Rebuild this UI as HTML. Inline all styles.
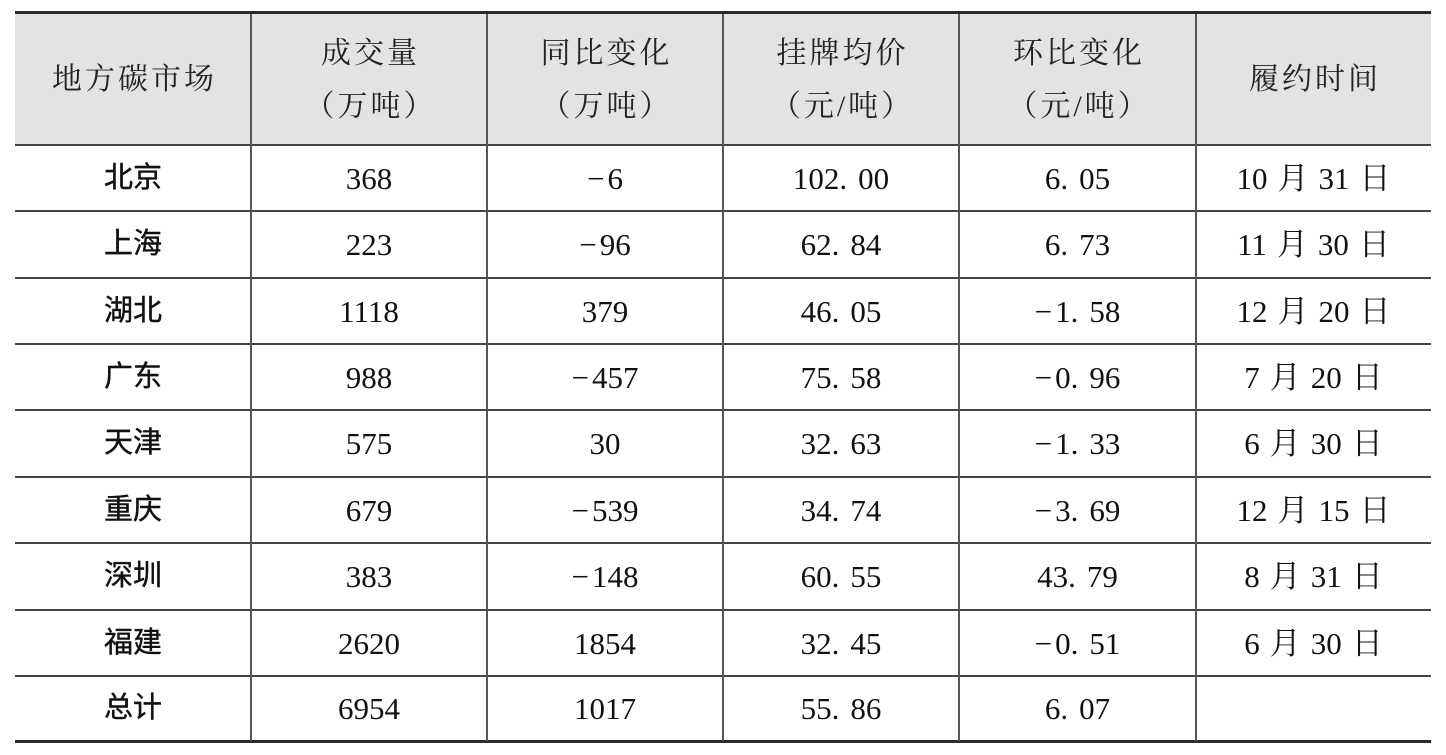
<!DOCTYPE html>
<html>
<head>
<meta charset="utf-8">
<style>
  html,body{margin:0;padding:0;background:#fff;}
  body{width:1446px;height:755px;position:relative;overflow:hidden;}
  .hl{position:absolute;left:15px;width:1416px;background:#444;}
  .vl{position:absolute;width:2px;background:#555;top:14px;height:727px;}
  .c{position:absolute;display:flex;align-items:center;justify-content:center;white-space:nowrap;color:#111;
     font-family:"Liberation Serif","Noto Serif CJK SC",serif;font-size:31px;line-height:1;}
  .n{font-family:"Liberation Sans","Noto Sans CJK SC",sans-serif;font-size:29px;font-weight:400;-webkit-text-stroke:0.4px #111;}
  .h{font-family:"Liberation Serif","Noto Serif CJK SC",serif;font-size:30px;letter-spacing:3px;color:#222;
     flex-direction:column;line-height:53px;text-indent:3px;}
  .h div{text-align:center;}
  i{display:inline-block;width:11px;}
  b{display:inline-block;width:10px;font-weight:normal;}
  .m{position:relative;top:0px;margin-right:3px;}
</style>
</head>
<body>
<div style="position:absolute;left:15px;top:14px;width:1416px;height:131px;background:#e2e3e5;"></div>
<div style="position:absolute;left:15px;top:11px;width:1416px;height:3px;background:#2a2a2a;"></div>
<div style="position:absolute;left:15px;top:740px;width:1416px;height:3px;background:#2a2a2a;"></div>
<div class="hl" style="top:144px;height:2px;"></div>
<div class="hl" style="top:210px;height:2px;"></div>
<div class="hl" style="top:277px;height:2px;"></div>
<div class="hl" style="top:343px;height:2px;"></div>
<div class="hl" style="top:409px;height:2px;"></div>
<div class="hl" style="top:476px;height:2px;"></div>
<div class="hl" style="top:542px;height:2px;"></div>
<div class="hl" style="top:609px;height:2px;"></div>
<div class="hl" style="top:675px;height:2px;"></div>
<div class="vl" style="left:250px;"></div>
<div class="vl" style="left:486px;"></div>
<div class="vl" style="left:722px;"></div>
<div class="vl" style="left:958px;"></div>
<div class="vl" style="left:1195px;"></div>

<div class="c h" style="left:15px;top:14px;width:236px;height:131px;"><div>地方碳市场</div></div>
<div class="c h" style="left:251px;top:14px;width:236px;height:131px;"><div>成交量</div><div>（万吨）</div></div>
<div class="c h" style="left:487px;top:14px;width:236px;height:131px;"><div>同比变化</div><div>（万吨）</div></div>
<div class="c h" style="left:723px;top:14px;width:236px;height:131px;"><div>挂牌均价</div><div>（元/吨）</div></div>
<div class="c h" style="left:959px;top:14px;width:237px;height:131px;"><div>环比变化</div><div>（元/吨）</div></div>
<div class="c h" style="left:1196px;top:14px;width:235px;height:131px;"><div>履约时间</div></div>

<div class="c n" style="left:15px;top:145px;width:236px;height:66px;">北京</div>
<div class="c" style="left:251px;top:145px;width:236px;height:66px;">368</div>
<div class="c" style="left:487px;top:145px;width:236px;height:66px;"><span class="m">−</span>6</div>
<div class="c" style="left:723px;top:145px;width:236px;height:66px;">102.<i></i>00</div>
<div class="c" style="left:959px;top:145px;width:237px;height:66px;">6.<i></i>05</div>
<div class="c" style="left:1196px;top:145px;width:235px;height:66px;">10<b></b>月<b></b>31<b></b>日</div>

<div class="c n" style="left:15px;top:211px;width:236px;height:67px;">上海</div>
<div class="c" style="left:251px;top:211px;width:236px;height:67px;">223</div>
<div class="c" style="left:487px;top:211px;width:236px;height:67px;"><span class="m">−</span>96</div>
<div class="c" style="left:723px;top:211px;width:236px;height:67px;">62.<i></i>84</div>
<div class="c" style="left:959px;top:211px;width:237px;height:67px;">6.<i></i>73</div>
<div class="c" style="left:1196px;top:211px;width:235px;height:67px;">11<b></b>月<b></b>30<b></b>日</div>

<div class="c n" style="left:15px;top:278px;width:236px;height:66px;">湖北</div>
<div class="c" style="left:251px;top:278px;width:236px;height:66px;">1118</div>
<div class="c" style="left:487px;top:278px;width:236px;height:66px;">379</div>
<div class="c" style="left:723px;top:278px;width:236px;height:66px;">46.<i></i>05</div>
<div class="c" style="left:959px;top:278px;width:237px;height:66px;"><span class="m">−</span>1.<i></i>58</div>
<div class="c" style="left:1196px;top:278px;width:235px;height:66px;">12<b></b>月<b></b>20<b></b>日</div>

<div class="c n" style="left:15px;top:344px;width:236px;height:66px;">广东</div>
<div class="c" style="left:251px;top:344px;width:236px;height:66px;">988</div>
<div class="c" style="left:487px;top:344px;width:236px;height:66px;"><span class="m">−</span>457</div>
<div class="c" style="left:723px;top:344px;width:236px;height:66px;">75.<i></i>58</div>
<div class="c" style="left:959px;top:344px;width:237px;height:66px;"><span class="m">−</span>0.<i></i>96</div>
<div class="c" style="left:1196px;top:344px;width:235px;height:66px;">7<b></b>月<b></b>20<b></b>日</div>

<div class="c n" style="left:15px;top:410px;width:236px;height:67px;">天津</div>
<div class="c" style="left:251px;top:410px;width:236px;height:67px;">575</div>
<div class="c" style="left:487px;top:410px;width:236px;height:67px;">30</div>
<div class="c" style="left:723px;top:410px;width:236px;height:67px;">32.<i></i>63</div>
<div class="c" style="left:959px;top:410px;width:237px;height:67px;"><span class="m">−</span>1.<i></i>33</div>
<div class="c" style="left:1196px;top:410px;width:235px;height:67px;">6<b></b>月<b></b>30<b></b>日</div>

<div class="c n" style="left:15px;top:477px;width:236px;height:66px;">重庆</div>
<div class="c" style="left:251px;top:477px;width:236px;height:66px;">679</div>
<div class="c" style="left:487px;top:477px;width:236px;height:66px;"><span class="m">−</span>539</div>
<div class="c" style="left:723px;top:477px;width:236px;height:66px;">34.<i></i>74</div>
<div class="c" style="left:959px;top:477px;width:237px;height:66px;"><span class="m">−</span>3.<i></i>69</div>
<div class="c" style="left:1196px;top:477px;width:235px;height:66px;">12<b></b>月<b></b>15<b></b>日</div>

<div class="c n" style="left:15px;top:543px;width:236px;height:67px;">深圳</div>
<div class="c" style="left:251px;top:543px;width:236px;height:67px;">383</div>
<div class="c" style="left:487px;top:543px;width:236px;height:67px;"><span class="m">−</span>148</div>
<div class="c" style="left:723px;top:543px;width:236px;height:67px;">60.<i></i>55</div>
<div class="c" style="left:959px;top:543px;width:237px;height:67px;">43.<i></i>79</div>
<div class="c" style="left:1196px;top:543px;width:235px;height:67px;">8<b></b>月<b></b>31<b></b>日</div>

<div class="c n" style="left:15px;top:610px;width:236px;height:66px;">福建</div>
<div class="c" style="left:251px;top:610px;width:236px;height:66px;">2620</div>
<div class="c" style="left:487px;top:610px;width:236px;height:66px;">1854</div>
<div class="c" style="left:723px;top:610px;width:236px;height:66px;">32.<i></i>45</div>
<div class="c" style="left:959px;top:610px;width:237px;height:66px;"><span class="m">−</span>0.<i></i>51</div>
<div class="c" style="left:1196px;top:610px;width:235px;height:66px;">6<b></b>月<b></b>30<b></b>日</div>

<div class="c n" style="left:15px;top:676px;width:236px;height:65px;">总计</div>
<div class="c" style="left:251px;top:676px;width:236px;height:65px;">6954</div>
<div class="c" style="left:487px;top:676px;width:236px;height:65px;">1017</div>
<div class="c" style="left:723px;top:676px;width:236px;height:65px;">55.<i></i>86</div>
<div class="c" style="left:959px;top:676px;width:237px;height:65px;">6.<i></i>07</div>
</body>
</html>
